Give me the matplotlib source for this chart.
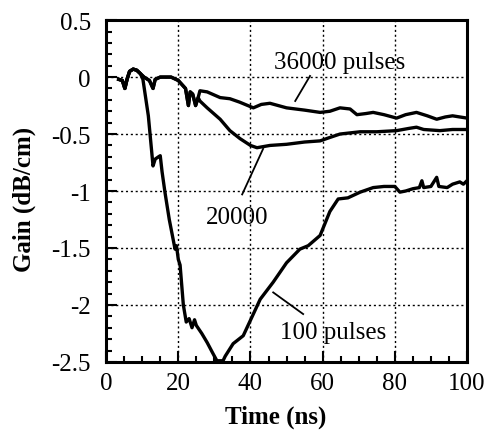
import matplotlib
matplotlib.use("Agg")
import matplotlib.pyplot as plt
from matplotlib.ticker import MultipleLocator

# shared start of all three traces
t_start = [3.5, 4.5, 5.2, 5.8, 6.5, 7.5, 8.5, 9.5]
g_start = [-0.02, -0.03, -0.1, -0.02, 0.05, 0.07, 0.06, 0.03]

# 36000 pulses
t_36k = t_start + [10.5, 12, 13, 13.6, 15, 18, 20, 22, 22.8, 23.3, 24, 24.8, 25.5,
                   26, 28, 31.6, 34.3, 37, 40.8, 43, 45.4, 50, 55, 59.3, 62, 64.8,
                   67.6, 69.5, 72, 74, 77, 80.5, 83, 86, 89, 91.6, 94, 96, 98, 100]
g_36k = g_start + [0.0, -0.03, -0.1, -0.02, 0.0, 0.0, -0.03, -0.1, -0.25, -0.13, -0.15, -0.25, -0.18,
                   -0.12, -0.13, -0.18, -0.19, -0.22, -0.27, -0.24, -0.23, -0.27, -0.29, -0.31, -0.3, -0.27,
                   -0.28, -0.33, -0.32, -0.31, -0.33, -0.36, -0.33, -0.31, -0.34, -0.37, -0.35, -0.34, -0.35, -0.36]

# 20000 pulses
t_20k = t_start + [10.5, 12, 13, 13.6, 15, 18, 20, 22, 22.8, 23.3, 24, 24.8, 25.5,
                   26, 28, 31.6, 34.3, 37.1, 40, 41.8, 45.4, 50, 55, 59.3, 62, 64.8,
                   67.6, 70.4, 75, 80.5, 84, 86, 88, 92.5, 96, 100]
g_20k = g_start + [0.0, -0.03, -0.1, -0.02, 0.0, 0.0, -0.03, -0.1, -0.25, -0.13, -0.15, -0.25, -0.18,
                   -0.21, -0.27, -0.37, -0.47, -0.54, -0.6, -0.62, -0.6, -0.59, -0.57, -0.56, -0.53, -0.5,
                   -0.49, -0.48, -0.48, -0.47, -0.45, -0.44, -0.46, -0.47, -0.46, -0.46]

# 100 pulses
t_100 = t_start + [10.2, 11.7, 13, 13.6, 14.5, 15, 15.5, 16.3, 17.5, 19.1, 19.5, 20, 20.5,
                   21.4, 22.2, 23, 23.8, 24.5, 25, 26.5, 28, 29.5, 30.7, 32.4, 33, 35.2,
                   38, 40.5, 42.7, 46.3, 50, 53.7, 56, 59.3, 62, 64.3, 67, 70.4, 74, 77,
                   80, 81.4, 83, 85, 86.8, 87.5, 88, 90, 91.6, 92.2, 94.5, 96, 98, 99, 100]
g_100 = g_start + [-0.02, -0.34, -0.78, -0.72, -0.7, -0.69, -0.83, -1.01, -1.25, -1.51, -1.48, -1.6, -1.65,
                   -2.0, -2.15, -2.12, -2.2, -2.13, -2.18, -2.25, -2.33, -2.42, -2.49, -2.49, -2.45, -2.34,
                   -2.27, -2.1, -1.95, -1.8, -1.63, -1.51, -1.48, -1.39, -1.18, -1.07, -1.06, -1.01, -0.97, -0.96,
                   -0.96, -1.01, -1.0, -0.98, -0.97, -0.91, -0.97, -0.96, -0.88, -0.96, -0.97, -0.94, -0.92, -0.94, -0.91]

plt.rcParams['font.family'] = ['Liberation Serif', 'DejaVu Serif']

fig = plt.figure(figsize=(4.89, 4.31), dpi=100)
ax = fig.add_axes([0.217, 0.158, 0.738, 0.793])

ax.plot(t_36k, g_36k, color='black', lw=2.4)
ax.plot(t_20k, g_20k, color='black', lw=2.4)
ax.plot(t_100, g_100, color='black', lw=2.4)

# labels with leader lines
ax.text(64.8, 0.13, "36000 pulses", fontsize=18, ha='center', va='center')
ax.plot([56.5, 52.4], [0.01, -0.21], color='black', lw=1.3)
ax.text(36.3, -1.23, "20000", fontsize=18, ha='center', va='center')
ax.plot([43.5, 37.7], [-0.63, -1.03], color='black', lw=1.3)
ax.text(62.9, -2.24, "100 pulses", fontsize=18, ha='center', va='center')
ax.plot([46.3, 54.6], [-1.89, -2.08], color='black', lw=1.3)

ax.set_xlim(0, 100)
ax.set_ylim(-2.5, 0.5)
ax.xaxis.set_major_locator(MultipleLocator(20))
ax.xaxis.set_minor_locator(MultipleLocator(5))
ax.yaxis.set_major_locator(MultipleLocator(0.5))
ax.yaxis.set_minor_locator(MultipleLocator(0.1))
ax.set_yticks([0.5, 0, -0.5, -1, -1.5, -2, -2.5])
ax.set_yticklabels(["0.5", "0", "-0.5", "-1", "-1.5", "-2", "-2.5"])

ax.tick_params(which='both', direction='in', top=False, right=False, labelsize=18)
ax.tick_params(which='major', length=8, width=1.5)
ax.tick_params(which='minor', length=4, width=1.5)
ax.tick_params(axis='x', pad=7)
ax.tick_params(axis='y', pad=11)

ax.grid(True, which='major', linestyle=(0, (1.5, 2)), color='black', lw=1.0)
for s in ax.spines.values():
    s.set_linewidth(2.2)

fig.text(275.5 / 489, 1 - 417 / 431, "Time (ns)", fontsize=18, fontweight='bold',
         ha='center', va='center')
fig.text(24 / 489, 1 - 199 / 431, "Gain (dB/cm)", fontsize=18, fontweight='bold',
         ha='center', va='center', rotation=90)

plt.savefig("out.png", dpi=100)
